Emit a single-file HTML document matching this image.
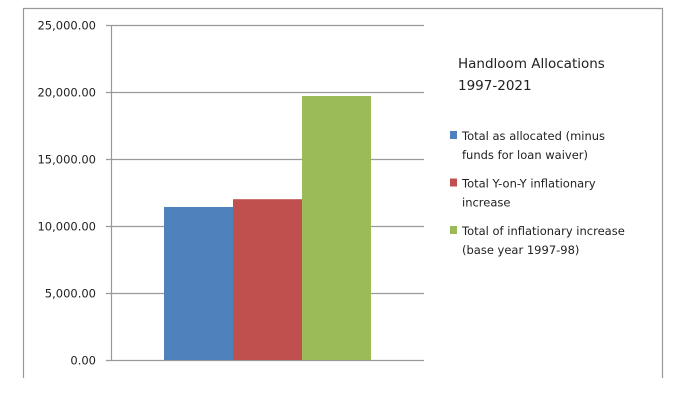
<!DOCTYPE html>
<html><head><meta charset="utf-8"><style>
body{margin:0;background:#fff;width:700px;height:407px;overflow:hidden;font-family:"DejaVu Sans","Liberation Sans",sans-serif}
</style></head><body>
<svg width="700" height="407" xmlns="http://www.w3.org/2000/svg">
<g id="frame">
<line x1="23.5" y1="8" x2="23.5" y2="378" stroke="#999" stroke-width="1.2"/>
<line x1="23" y1="8.5" x2="663" y2="8.5" stroke="#999" stroke-width="1.2"/>
<line x1="662.5" y1="8" x2="662.5" y2="378" stroke="#999" stroke-width="1.2"/>
</g>
<g id="grid"></g>
<g id="bars"></g>
<g id="legend">
<text x="458" y="68" font-size="13.5" fill="#222">Handloom Allocations</text>
<text x="458" y="90" font-size="13.5" fill="#222">1997-2021</text>
</g>
<script>
const categories=["Total"];
const seriesNames=["Total as allocated (minus funds for loan waiver)","Total Y-on-Y inflationary increase","Total of inflationary increase (base year 1997-98)"];
const seriesValues=[11420,12000,19700];
const tickValues=[0,5000,10000,15000,20000,25000];
const tickLabels=["0.00","5,000.00","10,000.00","15,000.00","20,000.00","25,000.00"];
const legendLines=[["Total as allocated (minus","funds for loan waiver)"],["Total Y-on-Y inflationary","increase"],["Total of inflationary increase","(base year 1997-98)"]];
const colors=["#4f81bd","#c0504d","#9bbb59"];
const NS="http://www.w3.org/2000/svg";
const x0=111,x1=424,yTop=25,yBot=360,yMax=25000;
const y=v=>yBot-(v/yMax)*(yBot-yTop);
function mk(t,a,p){const e=document.createElementNS(NS,t);for(const k in a)e.setAttribute(k,a[k]);p.appendChild(e);return e;}
const grid=document.getElementById('grid');
tickValues.forEach((v,i)=>{
 const yy=Math.round(y(v))+0.5;
 const l=mk('line',{x1:x0-5,x2:x1,y1:yy,y2:yy,stroke:'#999','stroke-width':1.2},grid);
 
 
 const t=mk('text',{x:96,y:yy+4,'text-anchor':'end','font-size':11.5,fill:'#222'},grid);
 t.textContent=tickLabels[i];
 
 
});
const ax=mk('line',{x1:x0+0.5,x2:x0+0.5,y1:yTop,y2:yBot,stroke:'#999','stroke-width':1.2},grid);


const bars=document.getElementById('bars');
const bw=69,bStart=164;
seriesValues.forEach((v,i)=>{
 const r=mk('rect',{x:bStart+i*bw,y:y(v),width:bw,height:yBot-y(v),fill:colors[i]},bars);
 
 
});
const lg=document.getElementById('legend');
legendLines.forEach((lines,i)=>{
 const by=136+i*47.5;
 const s=mk('rect',{x:450,y:by-5,width:7,height:8,fill:colors[i]},lg);
 
 
 lines.forEach((ln,j)=>{
  const t=mk('text',{x:462,y:by+4+j*19,'font-size':11.5,fill:'#222'},lg);
  t.textContent=ln;
  
  
 });
});
</script>
</svg>
</body></html>
